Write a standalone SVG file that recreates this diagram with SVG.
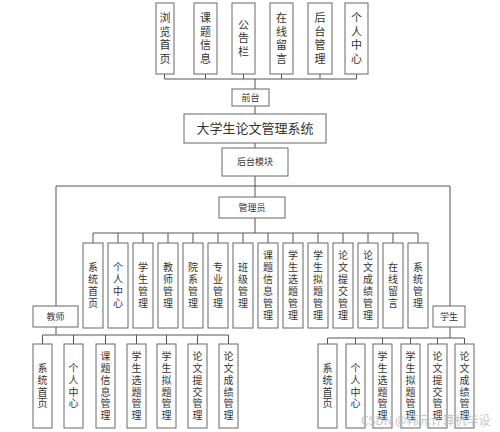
<svg xmlns="http://www.w3.org/2000/svg" width="500" height="432" viewBox="0 0 500 432">
<style>
.b{fill:#fff;stroke:#666;stroke-width:1}
.l{fill:none;stroke:#555;stroke-width:1}
text{font-family:"Noto Sans CJK SC","Liberation Sans",sans-serif;fill:#333;text-anchor:middle}
.v{writing-mode:vertical-rl;text-orientation:upright}
.top{font-size:11px;letter-spacing:2.8px}
.ad{font-size:10px;letter-spacing:2px}
.ch{font-size:10px;letter-spacing:1.7px}
.t9{font-size:9px}
.t13{font-size:13px}
.wm{font-size:12px;fill:#bbb;text-anchor:start}
</style>
<rect width="500" height="432" fill="#fff"/>
<g id="connectors" class="l">
<path d="M164.5 74V79M205.5 74V79M243.5 74V79M281.5 74V79M320 74V79M356.5 74V79M164.5 79H356.5"/>
<path d="M255 79V89M255 106V114M255 143V148M255 176V197M255 218V233"/>
<path d="M56 186H450M56 186V306M450 186V306"/>
<path d="M93 233H418M93 233V243M118 233V243M143 233V243M168 233V243M193 233V243M218 233V243M243 233V243M268 233V243M293 233V243M318 233V243M343 233V243M368 233V243M393 233V243M418 233V243"/>
<path d="M56 327V335M42.5 335H228.5M42.5 335V344M73.5 335V344M105.5 335V344M136.5 335V344M166.5 335V344M197.5 335V344M228.5 335V344"/>
<path d="M450 327V338M327.5 338H464.5M327.5 338V344M355.5 338V344M382.5 338V344M410.5 338V344M437.5 338V344M464.5 338V344"/>
</g>
<g id="top1"><rect class="b" x="156" y="3" width="18" height="71"/><text class="v top" x="165" y="39.7">浏览首页</text></g>
<g id="top2"><rect class="b" x="194" y="3" width="23" height="71"/><text class="v top" x="205.5" y="39.7">课题信息</text></g>
<g id="top3"><rect class="b" x="232" y="3" width="23" height="71"/><text class="v top" x="243.5" y="39.7">公告栏</text></g>
<g id="top4"><rect class="b" x="270" y="3" width="23" height="71"/><text class="v top" x="281.5" y="39.7">在线留言</text></g>
<g id="top5"><rect class="b" x="308" y="3" width="24" height="71"/><text class="v top" x="320" y="39.7">后台管理</text></g>
<g id="top6"><rect class="b" x="345" y="3" width="23" height="71"/><text class="v top" x="356.5" y="39.7">个人中心</text></g>
<g id="qiantai"><rect class="b" x="232" y="89" width="37" height="17"/><text class="t9" x="250.5" y="100.8">前台</text></g>
<g id="system"><rect class="b" x="184" y="114" width="142" height="29"/><text class="t13" x="255" y="133">大学生论文管理系统</text></g>
<g id="houtai"><rect class="b" x="222" y="148" width="66" height="28"/><text class="t9" x="255" y="165">后台模块</text></g>
<g id="admin"><rect class="b" x="219" y="197" width="66" height="21"/><text class="t9" x="252" y="210.8">管理员</text></g>
<g id="teacher"><rect class="b" x="33" y="306" width="45" height="21"/><text class="t9" x="55.5" y="319.8">教师</text></g>
<g id="student"><rect class="b" x="433" y="306" width="32" height="21"/><text class="t9" x="449" y="319.8">学生</text></g>
<g id="a1"><rect class="b" x="83" y="243" width="20" height="85"/><text class="v ad" x="93" y="286.5">系统首页</text></g>
<g id="a2"><rect class="b" x="108" y="243" width="20" height="85"/><text class="v ad" x="118" y="286.5">个人中心</text></g>
<g id="a3"><rect class="b" x="133" y="243" width="20" height="85"/><text class="v ad" x="143" y="286.5">学生管理</text></g>
<g id="a4"><rect class="b" x="158" y="243" width="20" height="85"/><text class="v ad" x="168" y="286.5">教师管理</text></g>
<g id="a5"><rect class="b" x="183" y="243" width="20" height="85"/><text class="v ad" x="193" y="286.5">院系管理</text></g>
<g id="a6"><rect class="b" x="208" y="243" width="20" height="85"/><text class="v ad" x="218" y="286.5">专业管理</text></g>
<g id="a7"><rect class="b" x="233" y="243" width="20" height="85"/><text class="v ad" x="243" y="286.5">班级管理</text></g>
<g id="a8"><rect class="b" x="258" y="243" width="20" height="85"/><text class="v ad" x="268" y="286.5">课题信息管理</text></g>
<g id="a9"><rect class="b" x="283" y="243" width="20" height="85"/><text class="v ad" x="293" y="286.5">学生选题管理</text></g>
<g id="a10"><rect class="b" x="308" y="243" width="20" height="85"/><text class="v ad" x="318" y="286.5">学生拟题管理</text></g>
<g id="a11"><rect class="b" x="333" y="243" width="20" height="85"/><text class="v ad" x="343" y="286.5">论文提交管理</text></g>
<g id="a12"><rect class="b" x="358" y="243" width="20" height="85"/><text class="v ad" x="368" y="286.5">论文成绩管理</text></g>
<g id="a13"><rect class="b" x="383" y="243" width="20" height="85"/><text class="v ad" x="393" y="286.5">在线留言</text></g>
<g id="a14"><rect class="b" x="408" y="243" width="20" height="85"/><text class="v ad" x="418" y="286.5">系统管理</text></g>
<g id="t1"><rect class="b" x="33" y="344" width="19" height="84"/><text class="v ch" x="42.5" y="386.8">系统首页</text></g>
<g id="t2"><rect class="b" x="64" y="344" width="19" height="84"/><text class="v ch" x="73.5" y="386.8">个人中心</text></g>
<g id="t3"><rect class="b" x="96" y="344" width="19" height="84"/><text class="v ch" x="105.5" y="386.8">课题信息管理</text></g>
<g id="t4"><rect class="b" x="127" y="344" width="19" height="84"/><text class="v ch" x="136.5" y="386.8">学生选题管理</text></g>
<g id="t5"><rect class="b" x="157" y="344" width="19" height="84"/><text class="v ch" x="166.5" y="386.8">学生拟题管理</text></g>
<g id="t6"><rect class="b" x="188" y="344" width="19" height="84"/><text class="v ch" x="197.5" y="386.8">论文提交管理</text></g>
<g id="t7"><rect class="b" x="219" y="344" width="19" height="84"/><text class="v ch" x="228.5" y="386.8">论文成绩管理</text></g>
<g id="s1"><rect class="b" x="318" y="344" width="19" height="84"/><text class="v ch" x="327.5" y="386.8">系统首页</text></g>
<g id="s2"><rect class="b" x="346" y="344" width="19" height="84"/><text class="v ch" x="355.5" y="386.8">个人中心</text></g>
<g id="s3"><rect class="b" x="373" y="344" width="19" height="84"/><text class="v ch" x="382.5" y="386.8">学生选题管理</text></g>
<g id="s4"><rect class="b" x="401" y="344" width="19" height="84"/><text class="v ch" x="410.5" y="386.8">学生拟题管理</text></g>
<g id="s5"><rect class="b" x="428" y="344" width="19" height="84"/><text class="v ch" x="437.5" y="386.8">论文提交管理</text></g>
<g id="s6"><rect class="b" x="455" y="344" width="19" height="84"/><text class="v ch" x="464.5" y="386.8">论文成绩管理</text></g>
<text class="wm" x="361" y="425" opacity="0.85">CSDN @韩元计算机毕设</text>
</svg>
